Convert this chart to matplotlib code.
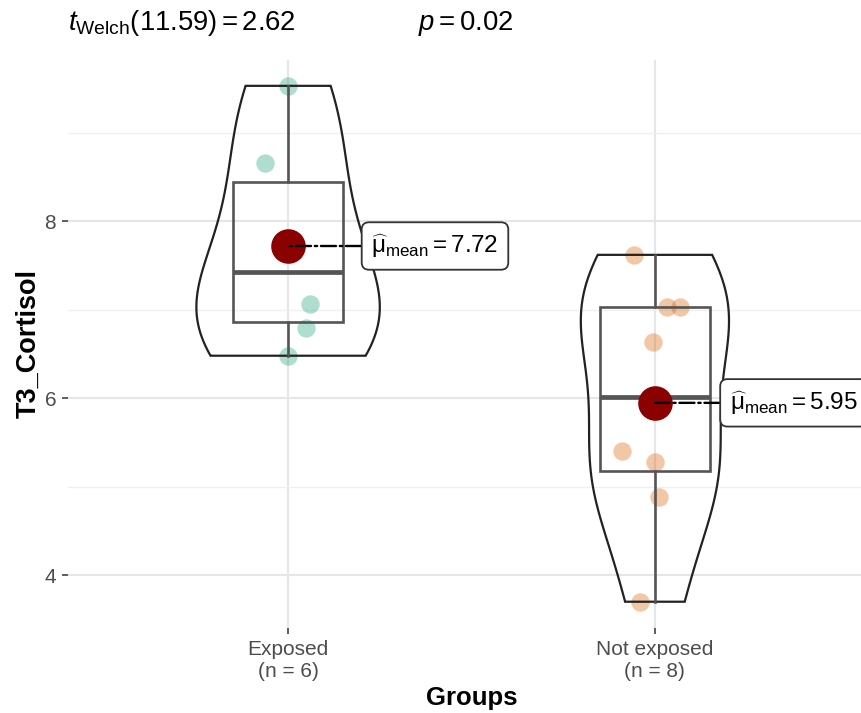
import matplotlib
matplotlib.use("Agg")
import matplotlib.pyplot as plt
import numpy as np

plt.rcParams["font.family"] = ["Liberation Sans", "DejaVu Sans"]
plt.rcParams["mathtext.fontset"] = "custom"
plt.rcParams["mathtext.rm"] = "Liberation Sans"
plt.rcParams["mathtext.it"] = "Liberation Sans:italic"
plt.rcParams["mathtext.bf"] = "Liberation Sans:bold"

# data
groups = ["Exposed", "Not exposed"]
group_n = [6, 8]
exposed = [9.53, 8.66, 7.07, 6.79, 6.48, 7.79]
exposed_jitter = [0.0, -0.062, 0.059, 0.048, 0.0, 0.0]
not_exposed = [7.62, 7.035, 7.035, 6.63, 5.40, 5.28, 4.88, 3.70]
not_exposed_jitter = [-0.057, 0.032, 0.068, -0.005, -0.091, 0.0, 0.011, -0.041]
point_colors = ["#1B9E77", "#D95F02"]

t_df = 11.59
t_value = 2.62
p_value = 0.02

values = [np.array(exposed), np.array(not_exposed)]
jitters = [np.array(exposed_jitter), np.array(not_exposed_jitter)]
positions = np.arange(1, len(groups) + 1)


def kde_nrd0(x, grid):
    # gaussian kernel, R's default "nrd0" bandwidth
    n = len(x)
    q1, q3 = np.percentile(x, [25, 75])
    bw = 0.9 * min(np.std(x, ddof=1), (q3 - q1) / 1.34) * n ** -0.2
    z = (grid[:, None] - x[None, :]) / bw
    return np.exp(-0.5 * z ** 2).sum(axis=1) / (n * bw * np.sqrt(2 * np.pi))


fig = plt.figure(figsize=(8.62, 7.13), dpi=100)
ax = fig.add_axes([68 / 862, 1 - 628 / 713, 807 / 862, 568 / 713])

# violins (trimmed, scale = "area")
grids = [np.linspace(v.min(), v.max(), 512) for v in values]
dens = [kde_nrd0(v, g) for v, g in zip(values, grids)]
dmax = max(d.max() for d in dens)
for pos, g, d in zip(positions, grids, dens):
    hw = 0.25 * d / dmax
    xs = np.concatenate([pos + hw, (pos - hw)[::-1]])
    ys = np.concatenate([g, g[::-1]])
    ax.fill(xs, ys, facecolor="none", edgecolor="#222222", lw=1.6, zorder=3)

# boxplots
ax.boxplot(values, positions=positions, widths=0.3, whis=1.5,
           showfliers=False, showcaps=False, patch_artist=True,
           boxprops=dict(facecolor="none", edgecolor="#555555", lw=1.9),
           whiskerprops=dict(color="#555555", lw=1.9),
           medianprops=dict(color="#555555", lw=3.4),
           zorder=4)

# jittered points
for pos, v, j, c in zip(positions, values, jitters, point_colors):
    ax.scatter(pos + j, v, s=175, color=c, alpha=0.35, lw=0, zorder=2)

# means with labels
offsets = [60, 54]
for pos, v, off in zip(positions, values, offsets):
    m = v.mean()
    ax.scatter([pos], [m], s=620, color="darkred", lw=0, zorder=6)
    ax.annotate(r"$\widehat{\mathrm{\mu}}_{\mathrm{mean}} = %.2f$" % m,
                xy=(pos, m), xytext=(off, 0), textcoords="offset points",
                ha="left", va="center", fontsize=17.5, color="black",
                bbox=dict(boxstyle="round,pad=0.4,rounding_size=0.3",
                          fc="white", ec="#333333", lw=1.3),
                arrowprops=dict(arrowstyle="-", linestyle="-.", color="black",
                                lw=1.7, shrinkA=0, shrinkB=0),
                annotation_clip=False, zorder=7)

ax.set_xlim(0.4, 2.6)
ax.set_ylim(3.403, 9.822)
ax.set_xticks(positions)
ax.set_xticklabels([f"{g}\n(n = {n})" for g, n in zip(groups, group_n)])
ax.set_yticks([4, 6, 8])
ax.set_yticks([5, 7, 9], minor=True)
ax.tick_params(axis="both", which="major", length=4.5, width=1.1,
               color="#333333", labelcolor="#4D4D4D", labelsize=15, pad=4)
ax.tick_params(axis="y", which="minor", length=0)
ax.grid(which="major", color="#E6E6E6", lw=1.5)
ax.grid(which="minor", axis="y", color="#F0F0F0", lw=1.0)
ax.set_axisbelow(True)
for s in ax.spines.values():
    s.set_visible(False)

ax.set_xlabel("Groups", fontsize=18.5, fontweight="bold", labelpad=4)
ax.set_ylabel("T3_Cortisol", fontsize=19.5, fontweight="bold", labelpad=2)

fig.text(68 / 862, 1 - 23 / 713,
         r"$t_{\mathrm{Welch}}(%.2f) = %.2f$" % (t_df, t_value),
         fontsize=19.8, va="center", ha="left")
fig.text(418 / 862, 1 - 23 / 713, r"$p = %.2f$" % p_value,
         fontsize=19.8, va="center", ha="left")

fig.savefig("out.png", dpi=100)
